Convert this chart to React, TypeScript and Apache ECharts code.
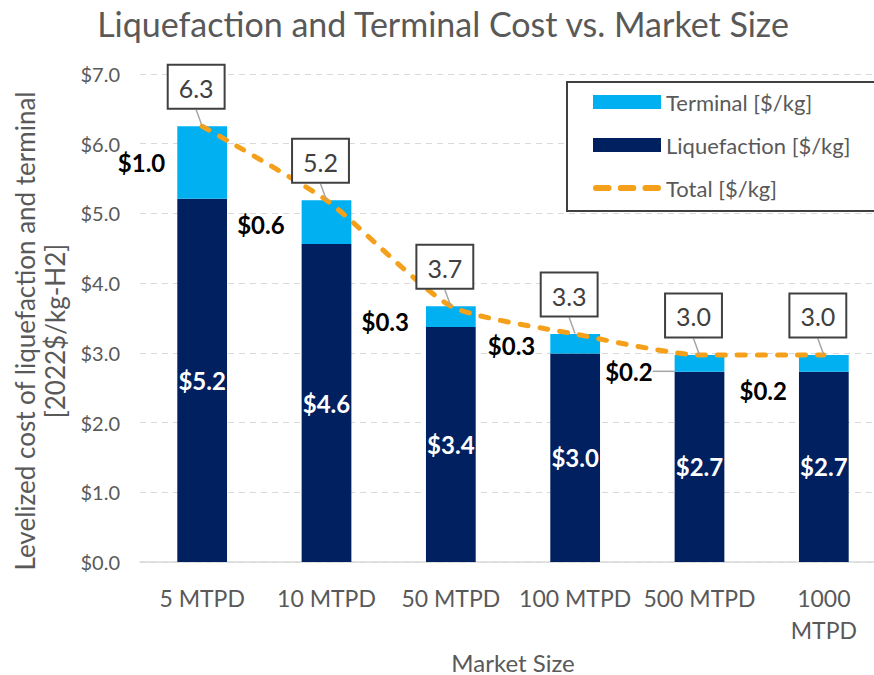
import React, { useEffect, useRef } from "react";
import * as echarts from "echarts";

const categories = ["5 MTPD", "10 MTPD", "50 MTPD", "100 MTPD", "500 MTPD", "1000\nMTPD"];
const liquefaction = [5.21, 4.56, 3.37, 2.99, 2.73, 2.73];
const terminal = [1.04, 0.63, 0.3, 0.28, 0.24, 0.24];
const total = [6.25, 5.19, 3.67, 3.27, 2.97, 2.97];
const yTicks = { min: 0, max: 7, interval: 1 };

const FONT = "Lato, 'Open Sans', sans-serif";
const GRAY = "#595959";
const ORANGE = "#F5A01A";

const fmt1 = (v: number) => (Math.round(v * 10) / 10).toFixed(1);

const dashIcon =
  "path://M3,0 h12 a3,3 0 0 1 0,6 h-12 a3,3 0 0 1 0,-6 z" +
  " M27,0 h12 a3,3 0 0 1 0,6 h-12 a3,3 0 0 1 0,-6 z" +
  " M51,0 h12 a3,3 0 0 1 0,6 h-12 a3,3 0 0 1 0,-6 z";

export default function App() {
  const ref = useRef<HTMLDivElement>(null);
  useEffect(() => {
    if (!ref.current) return;
    const chart = echarts.init(ref.current, undefined, { renderer: "svg" });
    const terminalData = terminal.map((v, i) =>
      i === 4 ? { value: v, labelLine: { show: true } } : v
    );
    const termDx = [0, -5, -5, -3, -10, 0];
    const termDy = [0, 2, 5, 2, 8, 27];
    chart.setOption({
      animation: false,
      textStyle: { fontFamily: FONT },
      title: {
        text: "Liquefaction and Terminal Cost vs. Market Size",
        left: "center",
        top: 1,
        textStyle: { fontFamily: FONT, fontSize: 34, fontWeight: "normal", color: GRAY },
      },
      legend: {
        orient: "vertical",
        left: 567,
        top: 82,
        padding: [9, 42, 12, 26],
        itemGap: 21,
        itemWidth: 68,
        itemHeight: 14,
        borderColor: "#404040",
        borderWidth: 2,
        backgroundColor: "#fff",
        textStyle: { fontFamily: FONT, fontSize: 22, color: GRAY },
        data: [
          { name: "Terminal [$/kg]", icon: "rect" },
          { name: "Liquefaction [$/kg]", icon: "rect" },
          { name: "Total [$/kg]", icon: dashIcon, itemStyle: { color: ORANGE } },
        ],
      },
      grid: { left: 140, right: 0, top: 74, bottom: 113, containLabel: false, outerBoundsMode: "none" },
      xAxis: {
        type: "category",
        data: categories,
        name: "Market Size",
        nameLocation: "middle",
        nameGap: 80,
        nameTextStyle: { fontFamily: FONT, fontSize: 24, lineHeight: 24, color: GRAY },
        axisLine: { lineStyle: { color: "#d9d9d9", width: 1.5 } },
        axisTick: { show: false },
        axisLabel: { fontFamily: FONT, fontSize: 23, color: GRAY, margin: 20, lineHeight: 32, interval: 0 },
      },
      yAxis: {
        type: "value",
        min: yTicks.min,
        max: yTicks.max,
        interval: yTicks.interval,
        name: "Levelized cost of liquefaction and terminal\n[2022$/kg-H2]",
        nameLocation: "middle",
        nameRotate: 90,
        nameGap: 66,
        nameTextStyle: { fontFamily: FONT, fontSize: 26, color: GRAY, lineHeight: 30, padding: [0, 26, 0, 0] },
        axisLine: { show: false },
        axisTick: { show: false },
        axisLabel: {
          fontFamily: FONT,
          fontSize: 20,
          color: GRAY,
          margin: 20,
          formatter: (v: number) => "$" + v.toFixed(1),
        },
        splitLine: { lineStyle: { color: "#d9d9d9", type: [6, 5], width: 1 } },
      },
      series: [
        {
          name: "Liquefaction [$/kg]",
          type: "bar",
          stack: "cost",
          barWidth: "40%",
          data: liquefaction,
          itemStyle: { color: "#002060" },
          label: {
            show: true,
            position: "inside",
            color: "#fff",
            fontWeight: "bold",
            fontSize: 24,
            fontFamily: FONT,
            formatter: (p: any) => "$" + fmt1(p.value),
          },
        },
        {
          name: "Terminal [$/kg]",
          type: "bar",
          stack: "cost",
          barWidth: "40%",
          data: terminalData,
          itemStyle: { color: "#00B0F0" },
          label: {
            show: true,
            position: "left",
            distance: 12,
            color: "#000",
            fontWeight: "bold",
            fontSize: 24,
            fontFamily: FONT,
            formatter: (p: any) => "$" + fmt1(p.value),
          },
          labelLayout: (p: any) => ({ dx: termDx[p.dataIndex], dy: termDy[p.dataIndex] }),
          labelLine: { show: false, lineStyle: { color: "#a6a6a6", width: 1.5 } },
        },
        {
          name: "Total [$/kg]",
          type: "line",
          data: total,
          smooth: 0.2,
          symbol: "none",
          lineStyle: { color: ORANGE, width: 5, type: [8, 12], cap: "round" },
          itemStyle: { color: ORANGE },
          z: 5,
        },
        {
          name: "TotalLabels",
          type: "scatter",
          data: total,
          symbol: "circle",
          symbolSize: 1,
          silent: true,
          itemStyle: { color: "rgba(0,0,0,0)", opacity: 1 },
          z: 6,
          label: {
            show: true,
            position: "top",
            distance: 4,
            fontFamily: FONT,
            fontSize: 25,
            lineHeight: 28,
            color: "#404040",
            backgroundColor: "#fff",
            borderColor: "#404040",
            borderWidth: 2,
            padding: [8, 10, 6, 10],
            formatter: (p: any) => fmt1(p.value),
          },
          labelLayout: { dx: -6, dy: -14 },
          labelLine: { show: true, lineStyle: { color: "#a6a6a6", width: 1.5 } },
        },
      ],
    });
    return () => chart.dispose();
  }, []);
  return (
    <div style={{ position: "absolute", left: 0, top: 0, width: 874, height: 675, overflow: "hidden" }}>
      <div ref={ref} style={{ width: 886, height: 675 }} />
    </div>
  );
}
